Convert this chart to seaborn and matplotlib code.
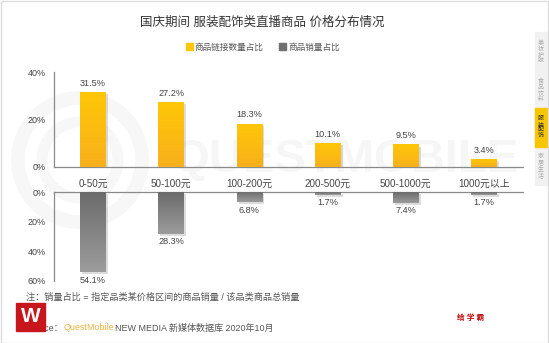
import numpy as np
import pandas as pd
import matplotlib
matplotlib.use("Agg")
import matplotlib.pyplot as plt
import matplotlib.patches as mpatches
import matplotlib.patheffects as pe
from matplotlib.colors import LinearSegmentedColormap
import seaborn as sns

sns.set_theme(style="white")
plt.rcParams["font.family"] = ["Liberation Sans", "Noto Sans CJK SC", "DejaVu Sans"]

# price ranges and shares (%)
categories = ["0-50元", "50-100元", "100-200元", "200-500元", "500-1000元", "1000元以上"]
link_share = [31.5, 27.2, 18.3, 10.1, 9.5, 3.4]
sales_share = [54.1, 28.3, 6.8, 1.7, 7.4, 1.7]
top_ticks = [0, 20, 40]
bottom_ticks = [0, 20, 40, 60]

title = "国庆期间 服装配饰类直播商品 价格分布情况"
legend_labels = ["商品链接数量占比", "商品销量占比"]
note = "注：销量占比 = 指定品类某价格区间的商品销量 / 该品类商品总销量"
side_tabs = ["美妆护肤", "食品饮料", "服装配饰", "家居生活"]

YELLOW_TOP, YELLOW_BOT = "#FFC707", "#F8B01C"
GRAY_TOP, GRAY_BOT = "#6B6B6B", "#9C9C9C"
TEXT = "#444444"
SPINE = "#8A8A8A"

df = pd.DataFrame({"range": categories, "links": link_share, "sales": sales_share})

W, H = 549, 343
fig = plt.figure(figsize=(W / 100, H / 100), dpi=100)
fig.patch.set_facecolor("white")


def box(x0, y0, x1, y1):
    return [x0 / W, 1 - y1 / H, (x1 - x0) / W, (y1 - y0) / H]


# background layer: faint watermark
ax_bg = fig.add_axes([0, 0, 1, 1], zorder=-5)
ax_bg.set_xlim(0, W)
ax_bg.set_ylim(H, 0)
ax_bg.axis("off")
ax_bg.text(345, 160, "QUESTMOBILE", fontsize=34, color="#F6F6F6",
           ha="center", va="center", fontweight="bold")
ax_bg.add_patch(mpatches.Circle((80, 160), 62, fill=False, lw=10, ec="#F7F7F7"))
ax_bg.add_patch(mpatches.Circle((80, 160), 38, fill=False, lw=8, ec="#F7F7F7"))

ax_top = fig.add_axes(box(54, 72, 523, 167))
ax_bot = fig.add_axes(box(54, 192, 523, 281))

sns.barplot(data=df, x="range", y="links", ax=ax_top, color=YELLOW_TOP,
            width=0.33, saturation=1, zorder=3)
sns.barplot(data=df, x="range", y="sales", ax=ax_bot, color=GRAY_TOP,
            width=0.33, saturation=1, zorder=3)


def gradient_fill(ax, c_start, c_end):
    cmap = LinearSegmentedColormap.from_list("g", [c_start, c_end])
    grad = np.linspace(0, 1, 100).reshape(-1, 1)
    for p in ax.patches:
        x0, y0 = p.get_x(), p.get_y()
        w, h = p.get_width(), p.get_height()
        p.set_path_effects([pe.SimplePatchShadow(offset=(1.5, -1.5), alpha=0.25,
                                                  shadow_rgbFace="#777777"), pe.Normal()])
        p.set_edgecolor("none")
        im = ax.imshow(grad, cmap=cmap, aspect="auto", origin="lower",
                       extent=[x0, x0 + w, y0, y0 + h], zorder=4)
        im.set_clip_path(p)


gradient_fill(ax_top, YELLOW_BOT, YELLOW_TOP)
gradient_fill(ax_bot, GRAY_TOP, GRAY_BOT)

for ax in (ax_top, ax_bot):
    ax.set_facecolor("none")
    ax.set_xlim(-0.5, 5.5)
    ax.set_xlabel("")
    ax.set_ylabel("")
    for s in ax.spines.values():
        s.set_visible(False)
    ax.spines["left"].set_visible(True)
    ax.spines["left"].set_color(SPINE)
    ax.spines["left"].set_linewidth(0.9)
    ax.tick_params(axis="both", length=0, labelsize=6.5, colors=TEXT)
    ax.tick_params(axis="y", pad=6)

ax_top.set_ylim(0, 40)
ax_top.set_yticks(top_ticks)
ax_top.set_yticklabels([f"{t}%" for t in top_ticks])
ax_top.spines["bottom"].set_visible(True)
ax_top.spines["bottom"].set_color(SPINE)
ax_top.spines["bottom"].set_linewidth(0.9)
ax_top.set_xticks(range(len(categories)))
ax_top.set_xticklabels(categories, fontsize=7.1, color=TEXT)
ax_top.tick_params(axis="x", pad=8.5)

ax_bot.set_ylim(60, 0)
ax_bot.set_yticks(bottom_ticks)
ax_bot.set_yticklabels([f"{t}%" for t in bottom_ticks])
ax_bot.spines["top"].set_visible(True)
ax_bot.spines["top"].set_color(SPINE)
ax_bot.spines["top"].set_linewidth(0.9)
ax_bot.set_xticks([])

for i, v in enumerate(link_share):
    ax_top.annotate(f"{v}%", (i, v), xytext=(0, 3), textcoords="offset points",
                    ha="center", va="bottom", fontsize=6.6, color=TEXT, zorder=6)
for i, v in enumerate(sales_share):
    ax_bot.annotate(f"{v}%", (i, v), xytext=(0, -2.5), textcoords="offset points",
                    ha="center", va="top", fontsize=6.6, color=TEXT, zorder=6)

# title and legend
fig.text(262 / W, 1 - 23 / H, title, ha="center", va="center", fontsize=9,
         color="#333333")
handles = [mpatches.Patch(color=YELLOW_TOP), mpatches.Patch(color="#6F6F6F")]
leg = fig.legend(handles, legend_labels, loc="center", ncol=2,
                 bbox_to_anchor=(263 / W, 1 - 47 / H), frameon=False,
                 fontsize=6.2, handlelength=0.8, handleheight=0.8,
                 handletextpad=0.25, columnspacing=1.8)
for t in leg.get_texts():
    t.set_color("#555555")

# notes
fig.text(26 / W, 1 - 297 / H, note, ha="left", va="center", fontsize=6.6,
         color="#555555")
src_y = 1 - 328 / H
t1 = fig.text(26 / W, src_y, "Source：", ha="left", va="center", fontsize=6.5,
              color="#555555")
fig.canvas.draw()
r = fig.canvas.get_renderer()
bb = t1.get_window_extent(r)
t2 = fig.text(bb.x1 / W, src_y, "QuestMobile", ha="left", va="center",
              fontsize=6.5, color="#E8B441")
bb = t2.get_window_extent(r)
fig.text(bb.x1 / W + 0.002, src_y, "NEW MEDIA 新媒体数据库 2020年10月", ha="left",
         va="center", fontsize=6.5, color="#555555")

# red badge in the lower-left corner
badge = mpatches.Rectangle((16 / W, 1 - 331 / H), 29 / W, 28 / H,
                           transform=fig.transFigure, color="#C8161D", zorder=5)
fig.patches.append(badge)
fig.text(30.5 / W, 1 - 317 / H, "W", ha="center", va="center", fontsize=15,
         fontweight="bold", color="white", zorder=6)

fig.text(471 / W, 1 - 318 / H, "给 学 霸", ha="center", va="center",
         fontsize=5.5, fontweight="bold", color="#C00000")

# category navigation strip on the right edge
strip = mpatches.Rectangle((535 / W, 1 - 185 / H), 12 / W, 153 / H,
                           transform=fig.transFigure, color="#F1F1F1", zorder=1)
fig.patches.append(strip)
tab_centers = [52, 90, 127, 166]
for lab, yc in zip(side_tabs, tab_centers):
    active = lab == "服装配饰"
    if active:
        hl = mpatches.Rectangle((535 / W, 1 - 147 / H), 12 / W, 39 / H,
                                transform=fig.transFigure, color="#F7C600",
                                zorder=2)
        fig.patches.append(hl)
    fig.text(541 / W, 1 - yc / H, "\n".join(lab), ha="center", va="center",
             fontsize=4.3, linespacing=1.1,
             color="#333333" if active else "#AAAAAA", zorder=3)

# thin frame around the image
frame = mpatches.Rectangle((0.5 / W, 0.5 / H), (W - 1.5) / W, (H - 1.5) / H,
                           transform=fig.transFigure, fill=False,
                           ec="#DDDDDD", lw=1, zorder=10)
fig.patches.append(frame)

fig.savefig("out.png", dpi=100, facecolor="white")
